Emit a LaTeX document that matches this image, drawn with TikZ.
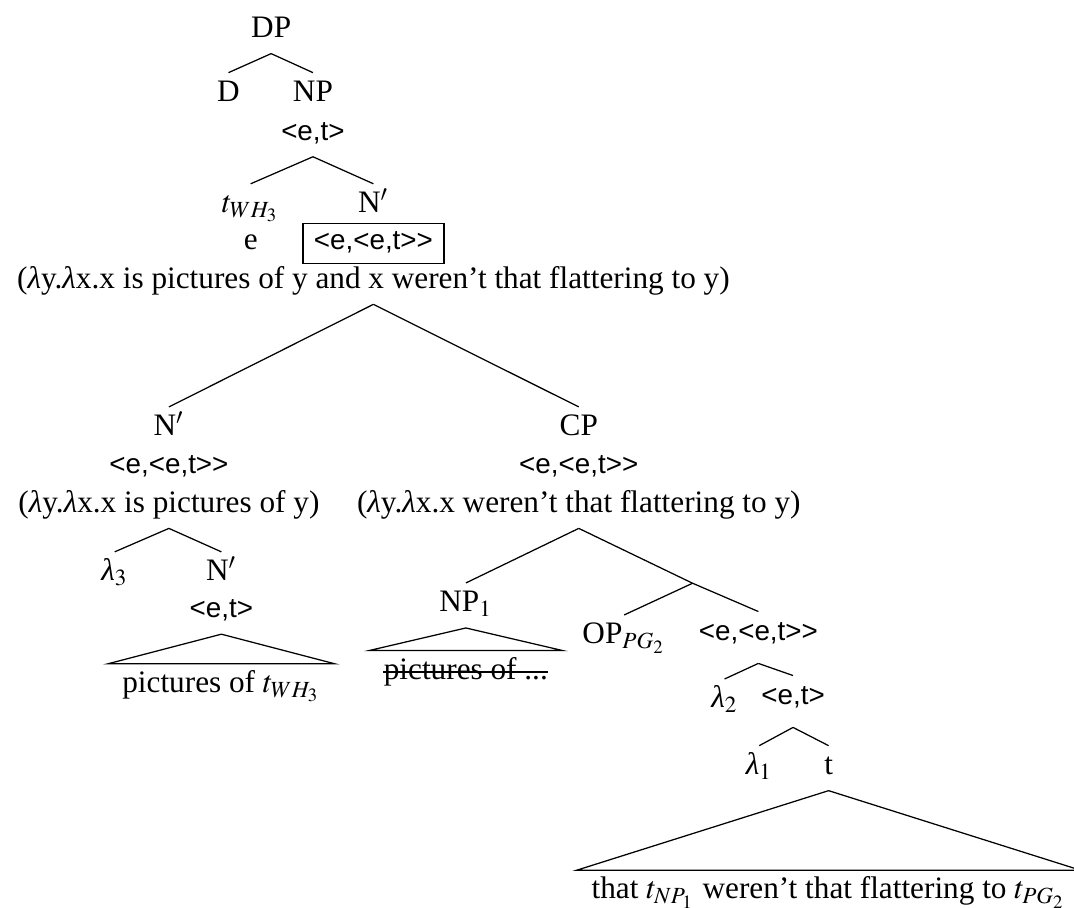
\documentclass[tikz,border=0pt]{standalone}
\usepackage{mathptmx}
\usepackage{fontspec}
\setmainfont{Liberation Serif}
\setsansfont{Liberation Sans}[Scale=0.89]
\newcommand{\lam}{\textit{λ}}
\newcommand{\eet}{<e,<e,t>\kern0pt>}

\begin{document}
\begin{tikzpicture}[
      nd/.style={inner xsep=1pt, inner ysep=2pt, text height=7pt, text depth=3pt},
      ty/.style={nd, font=\sffamily},
      lf/.style={nd, inner xsep=4.5pt},
      deep/.style={text depth=5.2pt}]
    \useasboundingbox (-3.05,0.35) rectangle (9.03,-9.86);
    % upper part
    \node[nd] (dp)  at (0,0)        {DP};
    \node[nd] (d)   at (-0.48,-0.72) {D};
    \node[nd] (np)  at (0.47,-0.72)  {NP};
    \node[ty] (npt) at (0.47,-1.16)  {<e,t>};
    \node[nd] (tw)  at (-0.23,-1.97) {$t_{WH_3}$};
    \node[nd] (nb)  at (1.15,-1.97)  {N$'$};
    \node[nd] (e)   at (-0.23,-2.39) {e};
    \node[ty, draw, inner xsep=3.5pt, inner ysep=1.4pt] (box) at (1.15,-2.39) {\eet};
    \node[nd] (cap1) at (1.15,-2.82) {(\lam y.\lam x.x is pictures of y and x weren't that flattering to y)};
    % left branch
    \node[nd] (n2)   at (-1.15,-4.48) {N$'$};
    \node[ty] (n2t)  at (-1.15,-4.91) {\eet};
    \node[nd] (cap2) at (-1.15,-5.34) {(\lam y.\lam x.x is pictures of y)};
    \node[nd] (l3)   at (-1.76,-6.11) {\lam$_3$};
    \node[nd] (n3)   at (-0.56,-6.11) {N$'$};
    \node[ty] (n3t)  at (-0.56,-6.53) {<e,t>};
    \node[lf] (leaf1) at (-0.56,-7.37) {pictures of $t_{WH_3}$};
    % right branch
    \node[nd] (cp)   at (3.46,-4.48) {CP};
    \node[ty] (cpt)  at (3.46,-4.91) {\eet};
    \node[nd] (cap3) at (3.46,-5.34) {(\lam y.\lam x.x weren't that flattering to y)};
    \node[nd] (np1)  at (2.19,-6.46) {NP$_1$};
    \node[lf] (leaf2) at (2.19,-7.22) {pictures of ...};
    \coordinate (x) at (4.74,-6.21);
    \node[nd] (op)   at (3.97,-6.82) {OP$_{PG_2}$};
    \node[ty, deep] (eet) at (5.48,-6.82) {\eet};
    \node[nd] (l2)   at (5.10,-7.54) {\lam$_2$};
    \node[ty, deep] (et2) at (5.87,-7.54) {<e,t>};
    \node[nd] (l1)   at (5.49,-8.29) {\lam$_1$};
    \node[nd] (t)    at (6.27,-8.29) {t};
    \node[lf] (leaf3) at (6.27,-9.69) {that $t_{NP_1}$ weren't that flattering to $t_{PG_2}$};
    % branches
    \foreach \a/\b in {dp/d, dp/np, npt/tw, npt/nb, cap1/n2, cap1/cp, cap2/l3, cap2/n3,
                       cap3/np1, eet/l2, eet/et2, et2/l1, et2/t}
      \draw (\a.south) -- (\b.north);
    \draw (cap3.south) -- (x) -- (eet.north);
    \draw (x) -- (op.north);
    % triangles
    \foreach \a/\b in {n3t/leaf1, np1/leaf2, t/leaf3}
      \draw (\a.south) -- (\b.north west) -- (\b.north east) -- cycle;
    % struck-out leaf
    \draw ([xshift=4.5pt, yshift=0.3pt]leaf2.west) -- ([xshift=-4.5pt, yshift=0.3pt]leaf2.east);
\end{tikzpicture}
\end{document}
